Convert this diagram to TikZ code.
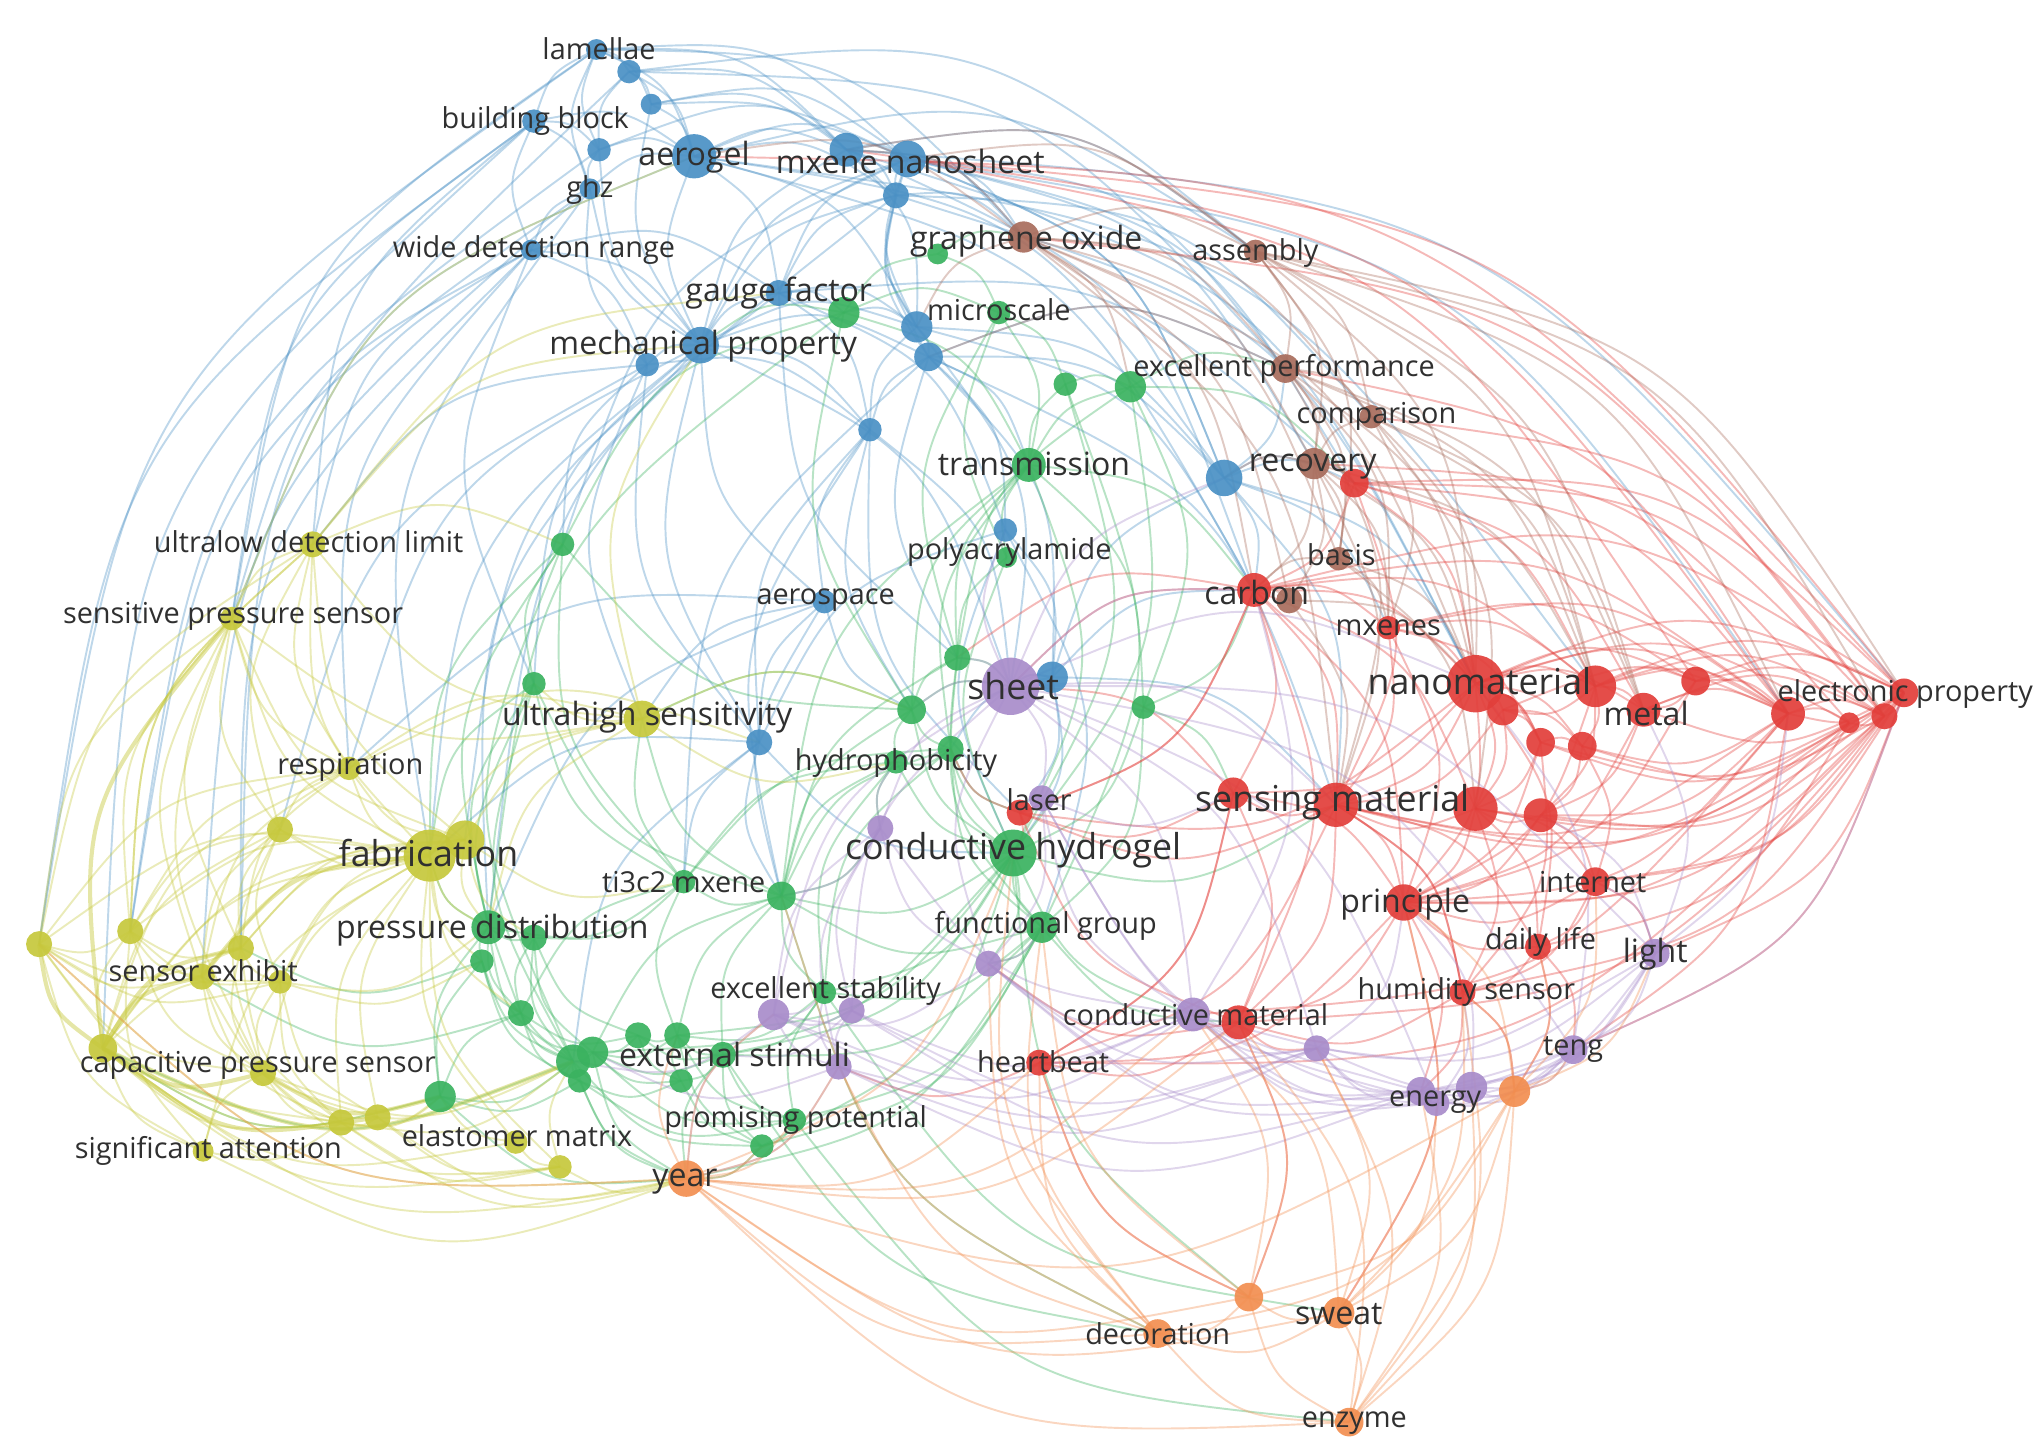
\documentclass[tikz,border=0pt]{standalone}
\usepackage{fontspec}
\setmainfont{Open Sans}
\usetikzlibrary{calc,backgrounds}
\definecolor{cB}{RGB}{74,144,196}
\definecolor{cG}{RGB}{58,178,95}
\definecolor{cY}{RGB}{198,200,60}
\definecolor{cR}{RGB}{226,62,58}
\definecolor{cP}{RGB}{168,140,202}
\definecolor{cN}{RGB}{168,108,92}
\definecolor{cO}{RGB}{242,142,80}
\definecolor{cT}{RGB}{48,48,48}
\begin{document}
\begin{tikzpicture}[x=0.01cm,y=-0.01cm,
  dot/.style={circle,inner sep=0pt,draw=none,fill opacity=0.92},
  dsz/.style={minimum size=#1*0.569pt},
  B/.style={dot,fill=cB,dsz=#1},
  G/.style={dot,fill=cG,dsz=#1},
  Y/.style={dot,fill=cY,dsz=#1},
  R/.style={dot,fill=cR,dsz=#1},
  P/.style={dot,fill=cP,dsz=#1},
  N/.style={dot,fill=cN,dsz=#1},
  O/.style={dot,fill=cO,dsz=#1},
  lab/.style={text=cT,inner sep=0pt},
  lS/.style={lab,font=\fontsize{6.3}{7}\selectfont},
  lM/.style={lab,font=\fontsize{7.0}{8}\selectfont},
  lL/.style={lab,font=\fontsize{7.8}{9}\selectfont},
  e/.style={draw=#1,line width=0.42pt,opacity=0.36},
  ek/.style={draw=#1,line width=0.9pt,opacity=0.45},
  arc/.style={to path={let \p1=(\tikztostart),\p2=(\tikztotarget),\p3=(ctr),
    \n1={((((\x2-\x1)/10)*(((\y1+\y2)/2-\y3)/10) - ((\y2-\y1)/10)*(((\x1+\x2)/2-\x3)/10)) > 0) ? 90 : -90},
    \p4=($(\p1)!0.5!(\p2)$),
    \p5=($(\p4)!0.42!\n1:(\p2)$)
    in .. controls (\p5) .. (\tikztotarget)}}
]
\useasboundingbox (0,0) rectangle (1568,1118);
\coordinate (ctr) at (780,560);
% ---------- nodes: blue
\node[B=8] (b1) at (458,38) {};
\node[B=9] (b2) at (483,55) {};
\node[B=8] (b3) at (500,80) {};
\node[B=9] (b4) at (410,93) {};
\node[B=9] (b5) at (460,115) {};
\node[B=17] (b6) at (533,120) {};
\node[B=8] (b7) at (453,145) {};
\node[B=13] (b8) at (650,115) {};
\node[B=14] (b9) at (697,122) {};
\node[B=10] (b10) at (688,150) {};
\node[B=8] (b11) at (408,192) {};
\node[B=10] (b12) at (598,225) {};
\node[B=14] (b13) at (538,265) {};
\node[B=9] (b14) at (497,280) {};
\node[B=12] (b15) at (704,251) {};
\node[B=11] (b16) at (713,274) {};
\node[B=9] (b17) at (668,330) {};
\node[B=14] (b18) at (940,367) {};
\node[B=9] (b19) at (772,407) {};
\node[B=9] (b20) at (633,462) {};
\node[B=12] (b21) at (808,520) {};
\node[B=10] (b22) at (583,570) {};
% green
\node[G=8] (g1) at (720,195) {};
\node[G=12] (g2) at (648,240) {};
\node[G=9] (g3) at (767,240) {};
\node[G=9] (g4) at (818,295) {};
\node[G=12] (g5) at (868,297) {};
\node[G=13] (g6) at (790,357) {};
\node[G=9] (g7) at (432,418) {};
\node[G=9] (g8) at (410,525) {};
\node[G=10] (g9) at (735,505) {};
\node[G=11] (g10) at (700,545) {};
\node[G=9] (g11) at (878,543) {};
\node[G=10] (g12) at (730,575) {};
\node[G=9] (g13) at (688,585) {};
\node[G=18] (g14) at (778,655) {};
\node[G=9] (g15) at (525,677) {};
\node[G=11] (g16) at (600,688) {};
\node[G=13] (g17) at (375,712) {};
\node[G=10] (g18) at (410,720) {};
\node[G=9] (g19) at (370,738) {};
\node[G=12] (g20) at (800,712) {};
\node[G=9] (g21) at (633,762) {};
\node[G=10] (g22) at (400,778) {};
\node[G=13] (g23) at (440,815) {};
\node[G=12] (g24) at (455,808) {};
\node[G=10] (g25) at (490,795) {};
\node[G=10] (g26) at (520,795) {};
\node[G=10] (g27) at (555,810) {};
\node[G=9] (g28) at (523,830) {};
\node[G=9] (g29) at (445,830) {};
\node[G=12] (g30) at (338,842) {};
\node[G=9] (g31) at (610,860) {};
\node[G=9] (g32) at (585,880) {};
\node[G=8] (g33) at (773,428) {};
% yellow
\node[Y=10] (y2) at (240,418) {};
\node[Y=9] (y3) at (178,475) {};
\node[Y=14] (y4) at (493,552) {};
\node[Y=9] (y5) at (268,590) {};
\node[Y=10] (y6) at (215,637) {};
\node[Y=15] (y8) at (357,645) {};
\node[Y=20] (y7) at (330,657) {};
\node[Y=10] (y9) at (30,725) {};
\node[Y=10] (y10) at (100,715) {};
\node[Y=10] (y11) at (185,728) {};
\node[Y=10] (y12) at (155,750) {};
\node[Y=9] (y13) at (215,754) {};
\node[Y=11] (y14) at (79,805) {};
\node[Y=10] (y15) at (202,824) {};
\node[Y=10] (y16) at (262,862) {};
\node[Y=10] (y17) at (290,858) {};
\node[Y=8] (y18) at (156,884) {};
\node[Y=9] (y19) at (430,896) {};
\node[Y=9] (y20) at (396,877) {};
% red
\node[R=11] (r1) at (1040,371) {};
\node[R=13] (r2) at (963,453) {};
\node[R=9] (r3) at (1066,482) {};
\node[R=22] (r4) at (1133,525) {};
\node[R=12] (r5) at (1154,545) {};
\node[R=16] (r6) at (1225,527) {};
\node[R=13] (r7) at (1262,545) {};
\node[R=11] (r8) at (1302,523) {};
\node[R=13] (r9) at (1373,548) {};
\node[R=8] (r10) at (1420,555) {};
\node[R=10] (r11) at (1447,550) {};
\node[R=11] (r12) at (1462,532) {};
\node[R=11] (r13) at (1183,570) {};
\node[R=11] (r14) at (1215,573) {};
\node[R=12] (rs1) at (947,609) {};
\node[R=17] (rs2) at (1026,618) {};
\node[R=17] (rs3) at (1133,621) {};
\node[R=13] (rs4) at (1183,626) {};
\node[R=10] (r16) at (783,624) {};
\node[R=14] (r17) at (1078,693) {};
\node[R=11] (r18) at (1225,677) {};
\node[R=10] (r19) at (1181,727) {};
\node[R=10] (r20) at (1123,762) {};
\node[R=13] (r21) at (951,785) {};
\node[R=10] (r22) at (798,816) {};
% brown
\node[N=12] (n1) at (786,182) {};
\node[N=9] (n2) at (964,193) {};
\node[N=11] (n3) at (987,283) {};
\node[N=9] (n4) at (1053,320) {};
\node[N=12] (n5) at (1009,356) {};
\node[N=9] (n6) at (1028,429) {};
\node[N=10] (n7) at (990,461) {};
% purple
\node[P=22] (p1) at (776,527) {};
\node[P=10] (p2) at (676,636) {};
\node[P=10] (p3) at (800,613) {};
\node[P=10] (p4) at (759,740) {};
\node[P=12] (p5) at (594,779) {};
\node[P=10] (p6) at (654,776) {};
\node[P=10] (p7) at (644,819) {};
\node[P=13] (p8) at (916,779) {};
\node[P=10] (p9) at (1011,805) {};
\node[P=11] (p10) at (1091,838) {};
\node[P=10] (p13) at (1103,847) {};
\node[P=12] (p14) at (1130,835) {};
\node[P=11] (p11) at (1208,806) {};
\node[P=11] (p12) at (1271,732) {};
% orange
\node[O=14] (o1) at (527,905) {};
\node[O=12] (o2) at (1163,838) {};
\node[O=11] (o3) at (889,1024) {};
\node[O=11] (o4) at (959,996) {};
\node[O=12] (o5) at (1028,1008) {};
\node[O=11] (o6) at (1036,1092) {};
% ---------- connectors
\begin{pgfonlayer}{background}
\foreach \a/\b in {b1/b2,b1/b4,b1/b5,b1/b6,b1/b7,b1/b9,b2/b3,b2/b6,b2/b8,b3/b6,b3/b9,b4/b5,b4/b6,b4/b7,b4/b11,b5/b6,b5/b7,b6/b7,b6/b8,b6/b9,b6/b10,b6/b12,b6/b13,b7/b11,b7/b13,b8/b9,b8/b10,b8/b15,b9/b10,b9/b12,b9/b15,b9/b16,b10/b13,b10/b16,b11/b13,b11/b14,b12/b13,b12/b15,b13/b14,b13/b15,b13/b16,b15/b16,b16/b17,b13/b17,b15/b18,b16/b18,b9/b18,b6/b18,b13/b20,b17/b20,b16/b21,b13/b22,b14/b22,b12/b19,b16/b19,b20/b22,b18/b21,b19/b21,b9/n1,b8/n2,b6/n2,b1/n1,b2/n3,b8/r4,b9/r1,b6/r2,b13/y7,b11/y3,b11/y2,b4/y2,b7/y7,b14/y2,b13/g17,b11/g8,b14/y4,b1/y3,b4/y9,b7/y10,b22/g14,b20/g16,b22/g15,b13/p1,b17/p1,b21/p1,b18/r4,b18/r2,b18/rs2,b18/n5,b18/r1,b16/g6,b15/g2,b12/g2,b17/g10,b20/y4,b22/y7,b21/g14,b19/g14,b20/y5,b3/b8,b5/b9,b10/b12,b12/b17,b14/b17,b11/b12,b8/b13,b9/b13,b15/b17,b10/b15,b1/b3,b2/b5,b3/b10,b18/b9,b18/n3,b21/rs2,b19/b22,b20/g10,b14/g7,b11/y5,b4/y3,b13/g8,b12/g9,b16/g9,b9/n5,b8/r2,b2/n2,b10/n4,b17/b22,b22/g16,b21/r2,b18/r3,b6/y3,b1/y9,b5/y10,b7/y12,b11/y11,b14/y6,b13/y5,b12/y8,b10/g17,b9/g7,b16/g15,b17/g16,b20/g17,b22/g23,b19/g20,b21/r16,b21/g12,b15/p1,b16/n3,b9/n3,b10/n1,b8/n1,b6/b15,b5/b13,b7/b14,b1/b8,b3/b13,b9/r9,b8/r12,b6/r6,b10/r4,b15/r2,b16/rs2,b17/r16,b12/r1,b4/y14,b2/y11}
  \draw[e=cB] (\a.center) to[arc] (\b.center);
\foreach \a/\b in {g1/g2,g1/g3,g2/g3,g3/g4,g4/g5,g3/g6,g4/g6,g5/g6,g2/g6,g6/g9,g6/g33,g33/g9,g9/g10,g10/g12,g10/g13,g12/g14,g13/g14,g9/g14,g11/g14,g11/g6,g14/g20,g14/g16,g16/g15,g16/g20,g15/g17,g15/g18,g17/g18,g17/g19,g18/g22,g19/g23,g22/g23,g23/g24,g24/g25,g25/g26,g26/g27,g27/g28,g28/g29,g23/g29,g24/g27,g23/g30,g30/g22,g29/g31,g31/g32,g27/g31,g21/g27,g21/g16,g20/g21,g14/g21,g26/g32,g24/g31,g7/g8,g7/g17,g8/g17,g8/g15,g7/g10,g8/g16,g16/g26,g5/g11,g2/g7,g7/g23,g8/g23,g10/g16,g13/g15,g6/g14,g5/g14,g4/g20,g12/g20,g20/g27,g14/g27,g14/g24,g14/g32,g12/g16,g17/g23,g17/g30,g18/g25,g19/g30,g22/g29,g16/g24,g6/r2,g5/r1,g14/rs2,g20/r21,g11/r2,g14/p8,g20/o1,g27/o1,g32/o1,g30/o1,g29/o1,g23/o1,g24/o1,g31/o6,g27/o3,g21/o5,g16/o3,g14/o4,g7/y7,g8/y7,g17/y7,g30/y14,g23/y14,g22/y12,g19/y11,g15/y4,g16/y4,g1/n1,g2/b13,g5/n3,g9/p1,g10/p1,g11/rs1,g12/g13,g13/g16,g18/g23,g19/g22,g25/g28,g26/g28,g22/g25,g24/g26,g25/g27,g21/g26,g28/g32,g23/g32,g14/g26,g12/g15,g6/g10,g3/g33,g20/g32,g20/g31,g16/g27,g15/g26,g2/g10,g3/g9,g4/g14,g5/g9,g6/g12,g7/g15,g8/g22,g9/g20,g10/g14,g11/g20,g13/g21,g15/g22,g17/g22,g18/g24,g19/g29,g21/g31,g22/g24,g24/g28,g26/g31,g27/g32,g30/g29,g2/g17,g6/g16,g12/g21,g9/g16,g33/g14,g14/p4,g20/p4,g16/p2,g13/p2,g12/r16,g10/y4}
  \draw[e=cG] (\a.center) to[arc] (\b.center);
\foreach \a/\b in {y2/y3,y2/y7,y3/y7,y3/y5,y3/y6,y3/y9,y3/y10,y2/y5,y2/y4,y5/y6,y5/y7,y6/y7,y6/y11,y6/y10,y7/y8,y7/y11,y7/y13,y7/y14,y7/y15,y8/y4,y8/y13,y9/y10,y9/y11,y9/y12,y9/y15,y10/y11,y10/y12,y10/y14,y11/y12,y11/y13,y12/y15,y13/y14,y13/y15,y14/y16,y14/y18,y15/y16,y15/y17,y14/y19,y14/o1,y18/o1,y16/o1,y17/o1,y19/o1,y9/o1,y14/g30,y4/y7,y4/y5,y2/g7,y2/b13,y3/y4,y9/y2,y10/y2,y7/g17,y8/g17,y7/y16,y7/y17,y7/y19,y12/y16,y16/y17,y17/y19,y11/y15,y9/y16,y9/y18,y10/y18,y18/y16,y20/y14,y20/y7,y20/g30,y19/y20,y5/y8,y6/y8,y6/y12,y5/y11,y13/y16,y10/y13,y3/b6,y2/b12,y5/b22,y4/g10,y4/g13,y8/g15,y9/y5,y14/y5,y2/y8,y3/y8,y4/b13,y6/y14,y13/g19,y17/g30,y16/g23,y19/g23,y2/y6,y2/y10,y3/y11,y3/y12,y3/y15,y5/y10,y5/y12,y6/y13,y6/y15,y7/y10,y7/y9,y8/y11,y8/y12,y8/y14,y9/y13,y10/y15,y11/y16,y12/y17,y13/y17,y15/y18,y15/y19,y16/y19,y7/y18,y4/g8,y4/g17,y8/g18,y7/g19,y7/g22,y13/g17,y15/g23,y16/g30}
  \draw[e=cY] (\a.center) to[arc] (\b.center);
\foreach \a/\b in {y14/y15,y14/g23,y14/y12,y7/y12,y14/y17,y15/g30,y9/y14,y14/y11,y3/y14}
  \draw[ek=cY] (\a.center) to[arc] (\b.center);
\foreach \a/\b in {r1/r2,r1/r4,r1/n5,r2/r4,r2/r3,r3/r4,r4/r5,r4/r6,r4/r7,r4/r8,r4/r9,r4/r12,r4/r13,r4/r14,r4/rs3,r4/r17,r5/r6,r6/r7,r6/r8,r7/r8,r7/r9,r8/r9,r9/r10,r9/r11,r9/r12,r10/r11,r11/r12,r6/r12,r7/r12,r5/r9,r4/r10,r6/r11,r13/r14,r13/r4,r14/r6,r14/r9,rs2/rs3,rs2/r4,rs3/rs4,rs4/r7,rs4/r9,rs2/r2,rs1/r2,rs1/rs2,rs2/r17,rs3/r17,rs3/r18,rs4/r18,r17/r18,r17/r19,r17/r20,r18/r19,r19/r20,r20/rs2,r17/r21,r21/rs1,r21/rs2,r22/r21,r22/rs1,r16/rs1,r16/rs2,r16/r4,r16/r2,r12/r18,r12/r17,r11/rs4,r10/rs3,r9/rs2,r12/r2,r11/r1,r9/r1,r12/p12,r9/p11,r12/p11,r12/r20,r10/r19,r3/rs2,r2/r17,r1/rs2,r1/r7,r21/p8,r21/p9,r20/p10,r17/p10,r18/p12,r19/p11,r21/o4,r20/o2,r19/o2,r17/o5,r22/o4,r22/rs2,r16/g14,r22/p7,r21/p4,r5/r13,r5/r14,r13/rs3,r14/rs4,r6/rs4,r8/r12,r8/r11,r7/r11,r6/r9,r5/rs3,r3/r6,r2/r6,r3/r13,r13/r17,r14/r18,rs4/r17,r18/r20,rs1/r17,rs2/r19,r6/r1,r8/r3,r9/r3,r4/rs1,r2/rs3,r2/r9,r12/r13,r11/r14,r10/r13,r17/r22,r21/r20,r16/r21,r16/g12,r2/g9,rs1/p1,r2/p1,r12/rs2,r10/r17,r11/r18,r12/r1,r11/n4,r10/n5,r9/n3,r12/rs3,r9/r17,r10/rs2,r12/r21,r11/r22,r9/p8,r8/r17,rs3/r19,rs3/r20,rs2/r20,r4/r19,r6/r17,r7/r17,r13/r20,rs1/r22,r2/r21,r2/r16,r3/r17,r5/rs2,r12/b9,r12/b6,r9/b8,r11/n1,r8/b9}
  \draw[e=cR] (\a.center) to[arc] (\b.center);
\foreach \a/\b in {n1/n2,n1/n3,n2/n3,n2/n5,n3/n5,n4/n5,n1/n5,n1/n4,n2/n4,n3/n4,n2/r4,n2/r9,n1/r4,n3/r4,n4/r4,n5/r4,n5/r2,n6/n5,n6/r4,n6/r2,n7/r2,n7/r4,n1/b15,n2/r12,n3/r7,n3/rs2,n4/r7,n5/rs2,n1/rs2,n1/b6,n2/r6,n1/n6,n3/n6,n4/r6,n5/r6,n7/n5,n7/rs2,n2/b9,n1/r2,n2/r11,n3/r3,n4/r3,n6/r3,n1/g5,n5/b18,n1/n7,n2/n6,n2/r7,n3/r6,n4/rs3,n5/r3,n6/rs3,n2/b8,n1/b8,n3/b16}
  \draw[e=cN] (\a.center) to[arc] (\b.center);
\foreach \a/\b in {p1/p2,p1/p3,p1/p4,p1/r4,p1/b21,p1/g10,p1/r2,p1/rs2,p1/p8,p2/p5,p2/p6,p3/p4,p4/p8,p5/p6,p5/p7,p6/p7,p7/p8,p8/p9,p9/p10,p8/p10,p10/p11,p11/p12,p12/p10,p9/p11,p8/p12,p4/p10,p7/p9,p7/p10,p3/p8,p1/p12,p1/p11,p5/p8,p2/p8,p6/p9,p1/p9,p12/r7,p11/r4,p12/rs4,p10/o2,p11/o2,p7/o1,p5/o1,p6/g27,p7/g21,p10/p13,p13/p14,p14/p11,p13/p11,p14/p12,p8/p14,p9/p13,p4/p13,p3/p13,p2/p4,p4/p5,p6/p8,p12/r9,p11/r12,p13/r20,p14/r17,p1/g9,p2/g13,p1/b19,p1/b18,p3/rs1,p8/r2,p9/r17,p5/g23,p7/g24,p2/g16,p12/r18,p14/o2,p1/p5,p1/p6,p2/p7,p3/p10,p4/p9,p5/p9,p6/p10,p8/p11,p8/p13,p9/p12,p12/p13,p3/r16,p4/g20,p5/g21,p1/p13}
  \draw[e=cP] (\a.center) to[arc] (\b.center);
\foreach \a/\b in {o1/o3,o1/o6,o1/o4,o1/o5,o1/o2,o3/o4,o3/o5,o3/o6,o4/o5,o4/o6,o5/o6,o2/o6,o2/o5,o2/o4,o2/o3,o1/g14,o1/p8,o1/r21,o5/r20,o4/r21,o2/r20,o2/r17,o3/g14,o3/g20,o6/r21,o2/p11,o2/p12,o5/r17,o6/p9,o1/r22,o6/r20,o4/p8,o5/p13,o3/p4,o1/y9,o1/g26,o1/g32,o1/g31,o1/p5,o1/p7,o3/g16,o3/p7,o4/g20,o4/r22,o5/p8,o6/p10,o2/r18,o2/r19,o5/p9,o6/p14,o3/r22}
  \draw[e=cO] (\a.center) to[arc] (\b.center);
\end{pgfonlayer}
% ---------- labels
\node[lS] (t1) at (460,37) {lamellae};
\node[lS] (t2) at (411,93) {building block};
\node[lM] (t3) at (533,121) {aerogel};
\node[lM] (t4) at (699,124) {mxene nanosheet};
\node[lS] (t5) at (453,146) {ghz};
\node[lS] (t6) at (410,192) {wide detection range};
\node[lM] (t7) at (788,185) {graphene oxide};
\node[lS] (t8) at (964,194) {assembly};
\node[lM] (t9) at (598,225) {gauge factor};
\node[lS] (t10) at (767,238) {microscale};
\node[lM] (t11) at (540,266) {mechanical property};
\node[lS] (t12) at (986,283) {excellent performance};
\node[lS] (t13) at (1057,320) {comparison};
\node[lM] (t14) at (794,356) {transmission};
\node[lM] (t15) at (1008,358) {recovery};
\node[lS] (t16) at (237,416) {ultralow detection limit};
\node[lS] (t17) at (775,424) {polyacrylamide};
\node[lS] (t18) at (1030,426) {basis};
\node[lS] (t19) at (634,461) {aerospace};
\node[lM] (t20) at (965,455) {carbon};
\node[lS] (t21) at (179,473) {sensitive pressure sensor};
\node[lS] (t22) at (1066,482) {mxenes};
\node[lL] (t23) at (778,527) {sheet};
\node[lL] (t24) at (1136,523) {nanomaterial};
\node[lM] (t25) at (497,551) {ultrahigh sensitivity};
\node[lM] (t26) at (1264,548) {metal};
\node[lS] (t27) at (1463,533) {electronic property};
\node[lS] (t28) at (269,589) {respiration};
\node[lS] (t29) at (688,586) {hydrophobicity};
\node[lS] (t30) at (798,614) {laser};
\node[lL] (t31) at (1023,616) {sensing material};
\node[lL] (t32) at (329,655) {fabrication};
\node[lL] (t33) at (778,653) {conductive hydrogel};
\node[lS] (t34) at (525,677) {ti3c2 mxene};
\node[lM] (t35) at (1079,694) {principle};
\node[lS] (t36) at (1223,677) {internet};
\node[lM] (t37) at (378,714) {pressure distribution};
\node[lS] (t38) at (803,711) {functional group};
\node[lS] (t39) at (1183,723) {daily life};
\node[lM] (t40) at (1271,733) {light};
\node[lS] (t41) at (156,745) {sensor exhibit};
\node[lS] (t42) at (634,761) {excellent stability};
\node[lS] (t43) at (1126,762) {humidity sensor};
\node[lS] (t44) at (918,779) {conductive material};
\node[lS] (t45) at (198,818) {capacitive pressure sensor};
\node[lM] (t46) at (564,810) {external stimuli};
\node[lS] (t47) at (801,815) {heartbeat};
\node[lS] (t48) at (1208,806) {teng};
\node[lS] (t49) at (1102,846) {energy};
\node[lS] (t50) at (611,860) {promising potential};
\node[lS] (t51) at (397,872) {elastomer matrix};
\node[lS] (t52) at (160,884) {significant attention};
\node[lM] (t53) at (526,907) {year};
\node[lS] (t54) at (889,1024) {decoration};
\node[lM] (t55) at (1028,1009) {sweat};
\node[lS] (t56) at (1040,1093) {enzyme};
\end{tikzpicture}
\end{document}
